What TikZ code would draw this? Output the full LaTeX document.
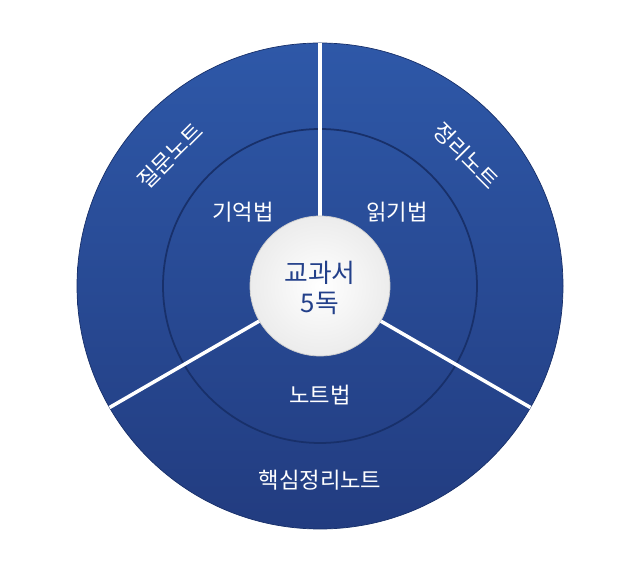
\documentclass[tikz,border=0pt]{standalone}
\usepackage{fontspec}
\usetikzlibrary{calc}
\setmainfont{Noto Sans CJK KR}
\begin{document}
\begin{tikzpicture}[x=0.03cm,y=-0.03cm,
  lbl/.style={text=white,font=\fontsize{19}{22}\selectfont},
  sep/.style={draw=white,line width=3pt}]
\definecolor{topc}{HTML}{2E58A8}
\definecolor{botc}{HTML}{223C80}
\definecolor{ring}{HTML}{18306A}
\definecolor{ctext}{HTML}{23408A}
\useasboundingbox (0,0) rectangle (640,571);
\coordinate (c) at (320,286);
\shade[top color=topc,bottom color=botc,draw=ring,line width=0.6pt] (c) circle[radius=243*0.03cm];
\draw[ring,line width=1.5pt] (c) circle[radius=157*0.03cm];
\coordinate (t) at (320,43);
\coordinate (l) at ($(c)+(210:243*0.03cm)$);
\coordinate (r) at ($(c)+(330:243*0.03cm)$);
\draw[sep] (c) -- (t);
\draw[sep] (c) -- (l);
\draw[sep] (c) -- (r);
\shade[inner color=white,outer color=gray!15,draw=gray!40,line width=0.6pt] (c) circle[radius=70*0.03cm];
\node[align=center,text=ctext,font=\fontsize{22}{25}\selectfont] (ct) at (320,288) {교과서\\5독};
\node[lbl,rotate=45] (q) at (170,156) {질문노트};
\node[lbl,rotate=-45] (j) at (466,156) {정리노트};
\node[lbl] (h) at (320,480) {핵심정리노트};
\node[lbl] (g) at (243,212) {기억법};
\node[lbl] (i) at (397,212) {읽기법};
\node[lbl] (n) at (320,395) {노트법};
\end{tikzpicture}
\end{document}
